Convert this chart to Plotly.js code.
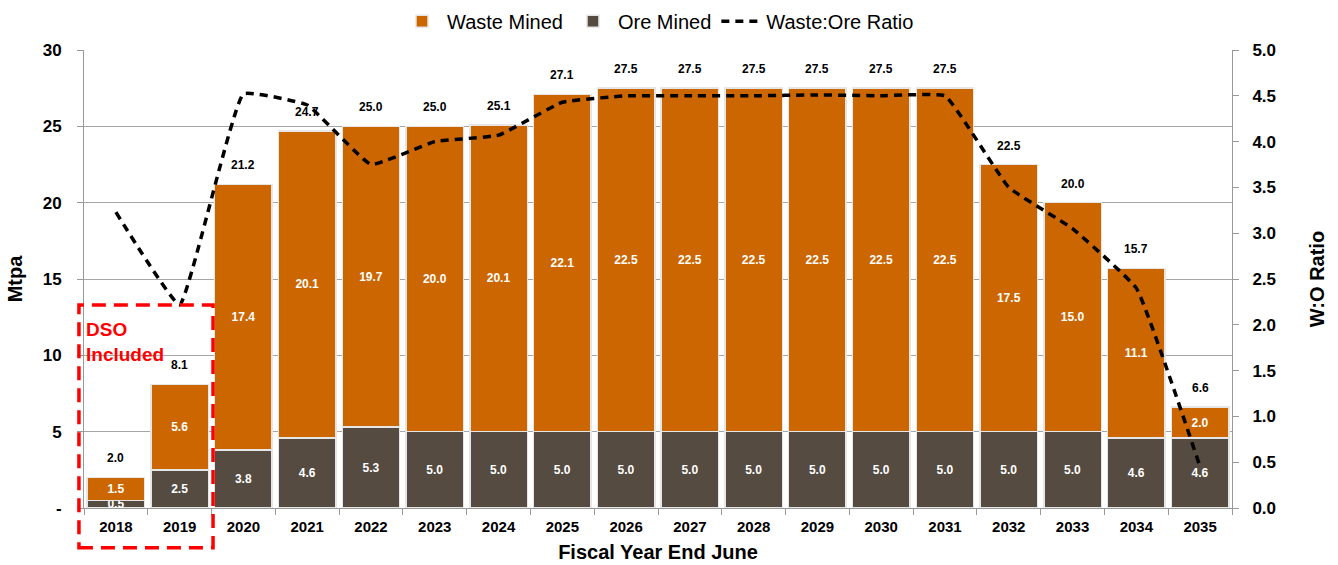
<!DOCTYPE html>
<html>
<head>
<meta charset="utf-8">
<script src="https://cdn.plot.ly/plotly-3.0.1.min.js"></script>
<style>html,body{margin:0;padding:0;background:#fff;}#chart{width:1338px;height:565px;}</style>
</head>
<body>
<div id="chart"></div>
<script>
const years = ['2018','2019','2020','2021','2022','2023','2024','2025','2026','2027','2028','2029','2030','2031','2032','2033','2034','2035'];
const oreMined = [0.5, 2.5, 3.8, 4.6, 5.3, 5.0, 5.0, 5.0, 5.0, 5.0, 5.0, 5.0, 5.0, 5.0, 5.0, 5.0, 4.6, 4.6];
const wasteMined = [1.5, 5.6, 17.4, 20.1, 19.7, 20.0, 20.1, 22.1, 22.5, 22.5, 22.5, 22.5, 22.5, 22.5, 17.5, 15.0, 11.1, 2.0];
const totals = [2.0, 8.1, 21.2, 24.7, 25.0, 25.0, 25.1, 27.1, 27.5, 27.5, 27.5, 27.5, 27.5, 27.5, 22.5, 20.0, 15.7, 6.6];
const woRatio = [3.23, 2.22, 4.52, 4.40, 3.75, 4.00, 4.07, 4.43, 4.50, 4.50, 4.50, 4.51, 4.50, 4.50, 3.50, 3.05, 2.40, 0.45];
const leftTickVals = [0, 5, 10, 15, 20, 25, 30];
const leftTickText = ['-', '5', '10', '15', '20', '25', '30'];

const FONT = 'Liberation Sans Narrow, Arial Narrow, Liberation Sans, Arial, sans-serif';
const WASTE = '#CC6600';
const ORE = '#554B41';

const barLabelFont = {family: FONT, size: 12, color: '#ffffff', weight: 'bold'};

const waste = {
  type: 'bar', name: 'Waste Mined', x: years, y: wasteMined, yaxis: 'y',
  marker: {color: WASTE, line: {color: '#e6e6e6', width: 1.5}},
  text: wasteMined.map(v => v.toFixed(1)), textposition: 'inside', insidetextanchor: 'middle',
  textangle: 0, constraintext: 'none', textfont: barLabelFont, legendrank: 1
};
const ore = {
  type: 'bar', name: 'Ore Mined', x: years, y: oreMined, yaxis: 'y',
  marker: {color: ORE, line: {color: '#e6e6e6', width: 1.5}},
  text: oreMined.map(v => v.toFixed(1)), textposition: 'inside', insidetextanchor: 'middle',
  textangle: 0, constraintext: 'none', textfont: barLabelFont, legendrank: 2
};
const ratio = {
  type: 'scatter', mode: 'lines', name: 'Waste:Ore Ratio', x: years, y: woRatio, yaxis: 'y2',
  line: {color: '#000000', width: 3.5, dash: '8px,6px', shape: 'spline', smoothing: 0.3},
  legendrank: 3
};

const data = [ore, waste, ratio];

const annotations = years.map((yr, i) => ({
  x: i, y: totals[i], xref: 'x', yref: 'y', text: totals[i].toFixed(1),
  showarrow: false, yanchor: 'middle', yshift: 19,
  font: {family: FONT, size: 12, color: '#000000', weight: 'bold'}
}));
annotations.push({
  xref: 'paper', yref: 'paper', x: 0.0, y: 0.362, xanchor: 'left', yanchor: 'middle', align: 'left',
  text: 'DSO<br>Included', showarrow: false,
  font: {family: FONT, size: 19, color: '#ff0000', weight: 'bold'}
});

const layout = {
  width: 1338, height: 565,
  margin: {l: 84, r: 106, t: 50, b: 57, autoexpand: false},
  paper_bgcolor: '#ffffff', plot_bgcolor: '#ffffff',
  barmode: 'stack', bargap: 0.1,
  font: {family: FONT, color: '#000000'},
  showlegend: true,
  legend: {
    orientation: 'h', x: 0.5, xanchor: 'center', y: 1.02, yanchor: 'bottom',
    font: {family: FONT, size: 20, color: '#000000'}, traceorder: 'normal',
    itemwidth: 40
  },
  xaxis: {
    type: 'category', range: [-0.5, 17.5], tickson: 'boundaries', ticks: 'outside', ticklen: 6, tickcolor: '#999999',
    showline: true, linecolor: '#999999', linewidth: 1, showgrid: false, ticklabelstandoff: 5,
    tickfont: {family: FONT, size: 15, color: '#000000', weight: 'bold'},
    title: {text: 'Fiscal Year End June', standoff: 10, font: {family: FONT, size: 20, color: '#000000', weight: 'bold'}}
  },
  yaxis: {
    range: [0, 30], tickvals: leftTickVals, ticktext: leftTickText, ticks: 'outside', ticklen: 6,
    tickcolor: '#999999', showline: true, linecolor: '#999999', linewidth: 1, ticklabelstandoff: 12,
    showgrid: true, gridcolor: '#a6a6a6', gridwidth: 1, zeroline: false,
    tickfont: {family: FONT, size: 17, color: '#000000', weight: 'bold'},
    title: {text: 'Mtpa', standoff: 14, font: {family: FONT, size: 20, color: '#000000', weight: 'bold'}}
  },
  yaxis2: {
    overlaying: 'y', side: 'right', range: [0, 5], dtick: 0.5, tickformat: '.1f',
    ticks: 'outside', ticklen: 6, tickcolor: '#999999', showline: true, linecolor: '#999999', linewidth: 1,
    showgrid: false, zeroline: false, ticklabelstandoff: 10,
    tickfont: {family: FONT, size: 17, color: '#000000', weight: 'bold'},
    title: {text: 'W:O Ratio', standoff: 34, font: {family: FONT, size: 20, color: '#000000', weight: 'bold'}}
  },
  shapes: [{
    type: 'rect', xref: 'paper', yref: 'paper', x0: -0.0044, x1: 0.1124, y0: -0.087, y1: 0.443,
    line: {color: '#ff0000', width: 3.5, dash: '14px,8px'}, fillcolor: 'rgba(0,0,0,0)', layer: 'above'
  }],
  annotations: annotations
};

Plotly.newPlot('chart', data, layout, {displayModeBar: false, staticPlot: true});
</script>
</body>
</html>
